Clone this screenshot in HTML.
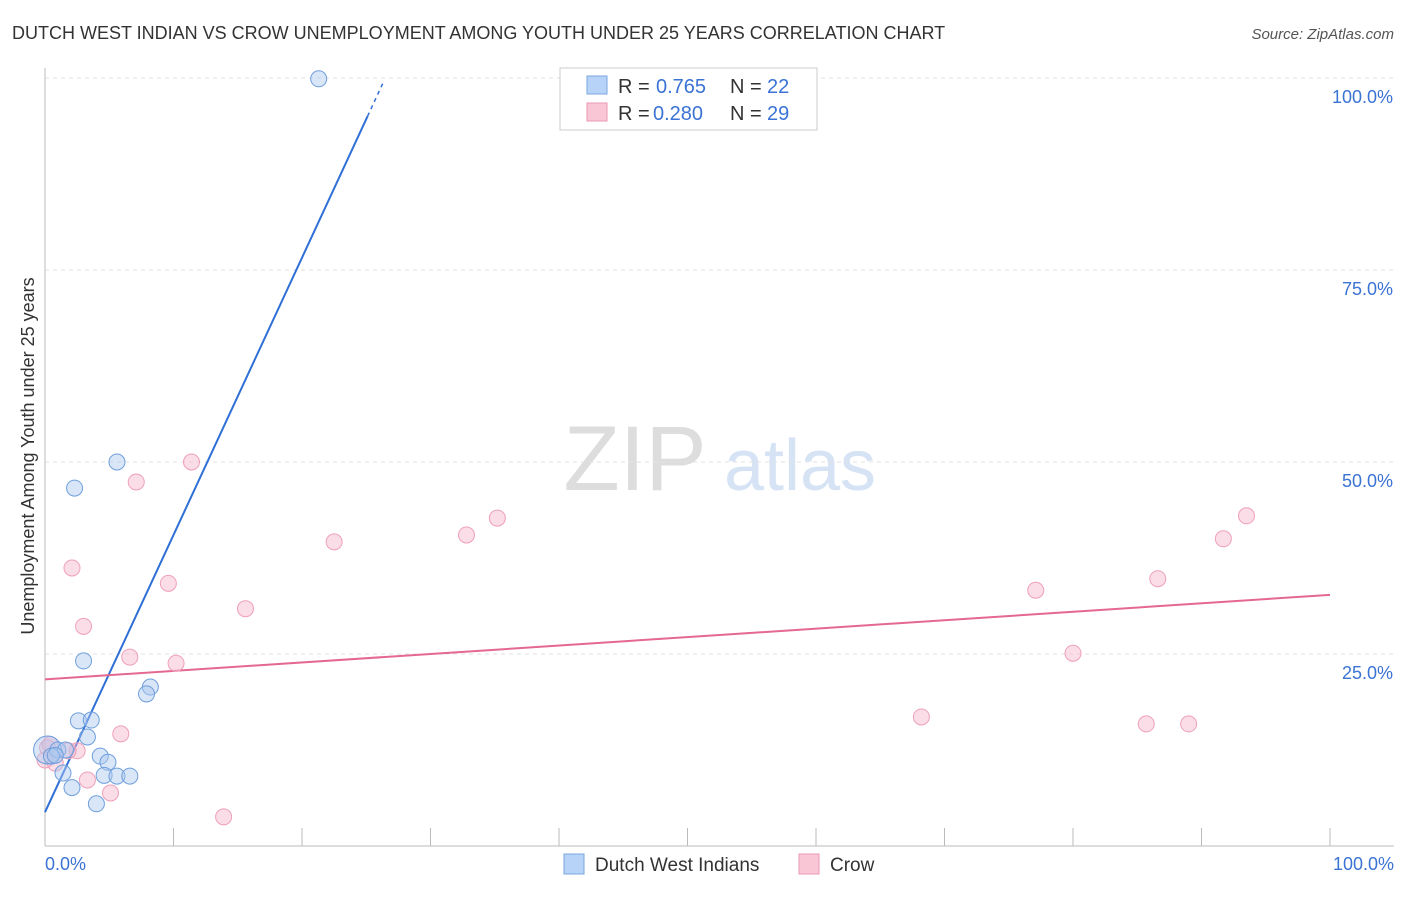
<!DOCTYPE html>
<html><head><meta charset="utf-8">
<style>
body{margin:0;background:#fff;font-family:"Liberation Sans",sans-serif;}
svg text{font-family:"Liberation Sans",sans-serif;}
</style></head>
<body>
<svg id="chart" width="1406" height="892" viewBox="0 0 1406 892" xmlns="http://www.w3.org/2000/svg">
<text x="12" y="39" font-size="18" fill="#333">DUTCH WEST INDIAN VS CROW UNEMPLOYMENT AMONG YOUTH UNDER 25 YEARS CORRELATION CHART</text>
<text x="1394" y="39" font-size="15" fill="#555" text-anchor="end" font-style="italic">Source: ZipAtlas.com</text>
<text transform="translate(34,456) rotate(-90)" font-size="18" fill="#333" text-anchor="middle">Unemployment Among Youth under 25 years</text>
<g>
<text x="635" y="490" font-size="92" fill="#ddd" font-family="Liberation Serif,serif" text-anchor="middle">ZIP</text>
<text x="800" y="490" font-size="72" fill="#d5e3f5" text-anchor="middle">atlas</text>
</g>
<g id="grid"></g>
<g id="axes"></g>
<g id="trends"></g>
<g id="points"></g>
<g>
<rect x="560" y="68" width="257" height="62" fill="#fff" stroke="#ccc"/>
<rect x="587" y="76" width="20" height="18" fill="#b7d3f7" stroke="#7aa7e0"/>
<text x="618" y="93" font-size="20" fill="#333">R = </text><text x="656" y="93" font-size="20" fill="#3a73d4">0.765</text>
<text x="730" y="93" font-size="20" fill="#333">N = </text><text x="767" y="93" font-size="20" fill="#3a73d4">22</text>
<rect x="587" y="103" width="20" height="18" fill="#f9c6d6" stroke="#e99ab3"/>
<text x="618" y="120" font-size="20" fill="#333">R = </text><text x="653" y="120" font-size="20" fill="#3a73d4">0.280</text>
<text x="730" y="120" font-size="20" fill="#333">N = </text><text x="767" y="120" font-size="20" fill="#3a73d4">29</text>
</g>
<g>
<rect x="564" y="854" width="20" height="20" fill="#b7d3f7" stroke="#7aa7e0"/>
<text x="595" y="871" font-size="19" fill="#333">Dutch West Indians</text>
<rect x="799" y="854" width="20" height="20" fill="#f9c6d6" stroke="#e99ab3"/>
<text x="830" y="871" font-size="19" fill="#333">Crow</text>
</g>
</svg>
<script>
const xTicks=[0,10,20,30,40,50,60,70,80,90,100];
const yTicks=[25,50,75,100];
const yTickLabels=["25.0%","50.0%","75.0%","100.0%"];
const blueX=[21.3,5.6,2.3,3.0,8.2,7.9,2.6,3.6,3.3,0.2,1.0,1.6,4.3,4.9,0.5,1.4,4.6,5.6,6.6,2.1,4.0,0.8];
const blueY=[99.9,50,46.6,24.1,20.7,19.8,16.3,16.4,14.2,12.5,12.5,12.5,11.7,10.9,11.7,9.5,9.2,9.1,9.1,7.6,5.5,11.8];
const pinkX=[11.4,7.1,2.1,3.0,9.6,15.6,22.5,32.8,35.2,6.6,10.2,5.9,2.5,1.8,0.8,3.3,5.1,13.9,68.2,77.1,80.0,86.6,85.7,89.0,91.7,93.5,0.2,0.0,0.4];
const pinkY=[50,47.4,36.2,28.6,34.2,30.9,39.6,40.5,42.7,24.6,23.8,14.6,12.4,12.4,10.8,8.6,6.9,3.8,16.8,33.3,25.1,34.8,15.9,15.9,40,43,12.8,11.2,13.2];
const blueTrend=[4.4,3.61]; // intercept, slope
const pinkTrend=[21.7,0.11];
const X=v=>45+v*12.85, Y=v=>846-v*7.68;
const NS="http://www.w3.org/2000/svg";
function mk(tag,attrs,parent){const e=document.createElementNS(NS,tag);for(const k in attrs)e.setAttribute(k,attrs[k]);parent.appendChild(e);return e;}
const grid=document.getElementById('grid'),axes=document.getElementById('axes'),tr=document.getElementById('trends'),pts=document.getElementById('points');
yTicks.forEach((t,i)=>{
 const l=mk('line',{x1:45,x2:1394,y1:Y(t),y2:Y(t),stroke:'#e2e2e2','stroke-dasharray':'4,4'},grid);
 
 
 const tx=mk('text',{x:1393,y:Y(t)+25,'font-size':18,fill:'#3a73d4','text-anchor':'end'},axes);
 tx.textContent=yTickLabels[i];
 
 
});
const ax=mk('line',{x1:45,x2:1394,y1:846,y2:846,stroke:'#bbb'},axes);


const ay=mk('line',{x1:45,x2:45,y1:68,y2:846,stroke:'#bbb'},axes);


xTicks.forEach(t=>{const l=mk('line',{x1:X(t),x2:X(t),y1:828,y2:846,stroke:'#bbb'},axes);
 
 });
[[0,"0.0%","start",45],[100,"100.0%","end",1394]].forEach(a=>{const t=mk('text',{x:a[3],y:870,'font-size':18,fill:'#3a73d4','text-anchor':a[2]},axes);t.textContent=a[1];
 
 });
// trends
const bEnd=25.1;
const b1=mk('line',{x1:X(0),y1:Y(blueTrend[0]),x2:X(bEnd),y2:Y(blueTrend[0]+blueTrend[1]*bEnd),stroke:'#2f6fd6','stroke-width':2},tr);


const bx2=26.4;
const b2=mk('line',{x1:X(bEnd),y1:Y(blueTrend[0]+blueTrend[1]*bEnd),x2:X(bx2),y2:Y(blueTrend[0]+blueTrend[1]*bx2),stroke:'#2f6fd6','stroke-width':1.5,'stroke-dasharray':'4,4'},tr);


const p1=mk('line',{x1:X(0),y1:Y(pinkTrend[0]),x2:X(100),y2:Y(pinkTrend[0]+pinkTrend[1]*100),stroke:'#e4688f','stroke-width':2},tr);


// points
pinkX.forEach((x,i)=>{const c=mk('circle',{cx:X(x),cy:Y(pinkY[i]),r:8,fill:'rgba(247,180,202,0.45)',stroke:'#eea0b9','stroke-width':1},pts);
 
 });
blueX.forEach((x,i)=>{const c=mk('circle',{cx:X(x),cy:Y(blueY[i]),r:(i==9?14:8),fill:'rgba(170,200,240,0.45)',stroke:'#6f9fdc','stroke-width':1},pts);
 
 });
</script>
</body></html>
